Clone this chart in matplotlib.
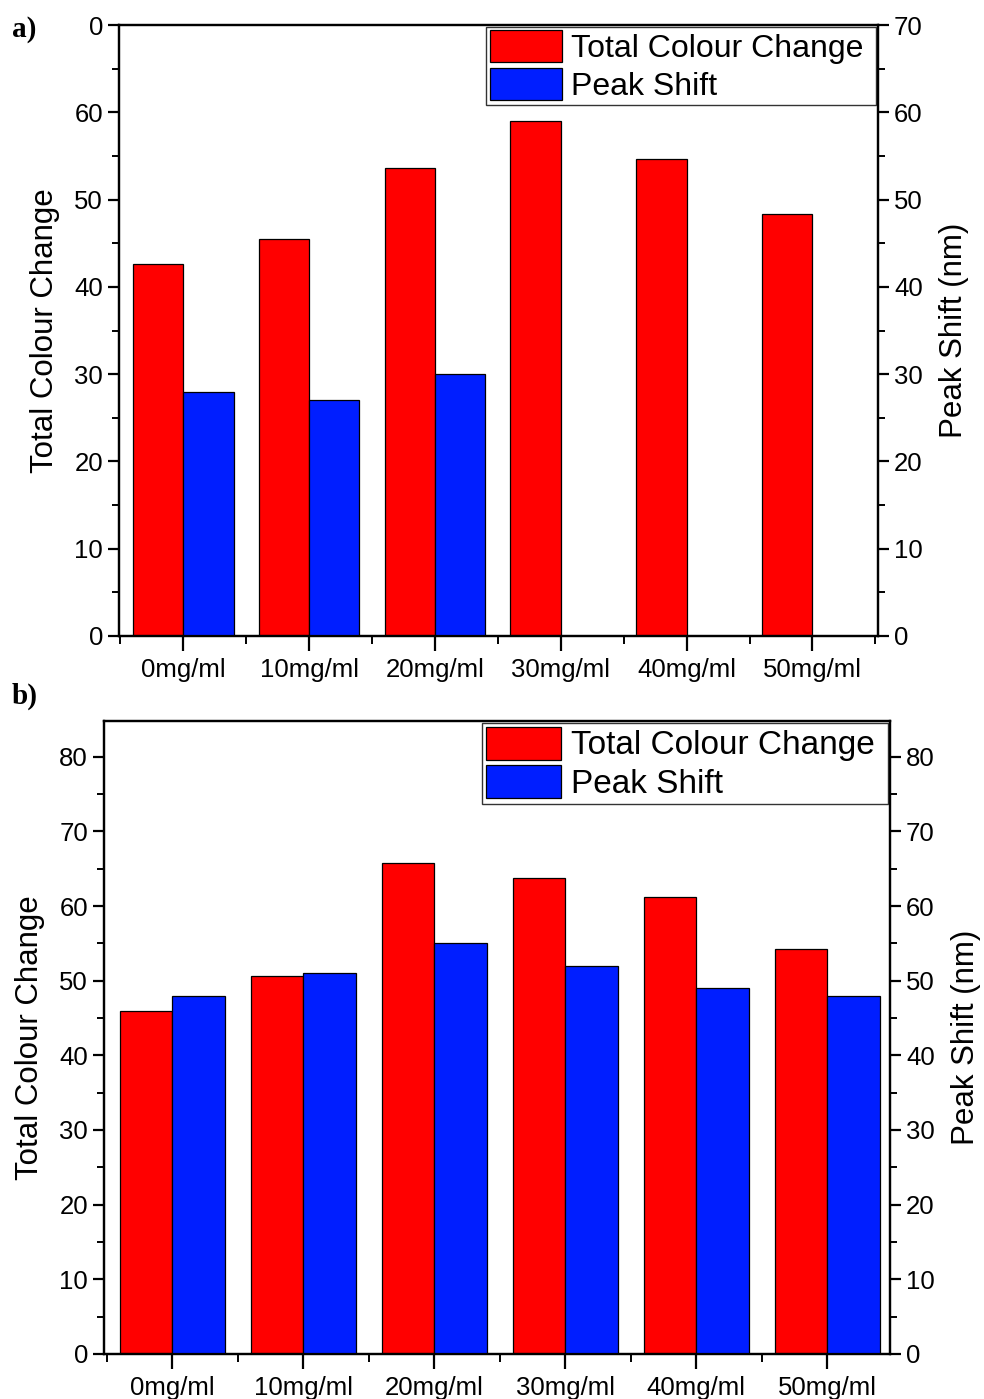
import matplotlib.pyplot as plt
import numpy as np
from matplotlib.ticker import MultipleLocator, FixedLocator, FixedFormatter

plt.rcParams['font.family'] = ['Liberation Sans', 'DejaVu Sans']

categories = ['0mg/ml', '10mg/ml', '20mg/ml', '30mg/ml', '40mg/ml', '50mg/ml']

# panel a
colour_a = [42.6, 45.5, 53.6, 59.0, 54.6, 48.3]
shift_a = [28, 27, 30, 0, 0, 0]
# panel b
colour_b = [46.0, 50.6, 65.8, 63.8, 61.2, 54.2]
shift_b = [48, 51, 55, 52, 49, 48]

RED = '#ff0000'
BLUE = '#001eff'
TICK_FS = 18.5
LABEL_FS = 22.5


def style_axis(ax, side):
    for sp in ax.spines.values():
        sp.set_linewidth(1.6)
    ax.tick_params(axis='y', which='major', direction='out', length=8, width=1.6,
                   labelsize=TICK_FS, left=(side == 'left'), right=(side == 'right'),
                   labelleft=(side == 'left'), labelright=(side == 'right'))
    ax.tick_params(axis='y', which='minor', direction='out', length=5, width=1.4,
                   left=(side == 'left'), right=(side == 'right'))
    ax.yaxis.set_minor_locator(MultipleLocator(5))


def draw_panel(fig, rect, colour, shift, ymax, xlim, leg_fs, left_labels=None):
    ax = fig.add_axes(rect)
    x = np.arange(len(categories))
    w = 0.4
    ax.bar(x - w / 2, colour, w, color=RED, edgecolor='black', linewidth=0.9,
           label='Total Colour Change ')
    ax.set_xlim(*xlim)
    ax.set_ylim(0, ymax)
    ax.set_xticks(x)
    ax.set_xticklabels(categories)
    ax.xaxis.set_minor_locator(FixedLocator(np.arange(-0.5, len(categories), 1.0)))
    ax.tick_params(axis='x', which='major', direction='out', length=11, width=1.6,
                   labelsize=TICK_FS, pad=5)
    ax.tick_params(axis='x', which='minor', direction='out', length=6, width=1.4)
    ax.yaxis.set_major_locator(MultipleLocator(10))
    style_axis(ax, 'left')
    if left_labels is not None:
        ax.yaxis.set_major_locator(FixedLocator(np.arange(0, ymax + 1, 10)))
        ax.yaxis.set_major_formatter(FixedFormatter(left_labels))
    ax.set_ylabel('Total Colour Change', fontsize=LABEL_FS, labelpad=10)

    ax2 = ax.twinx()
    ax2.bar(x + w / 2, shift, w, color=BLUE, edgecolor='black', linewidth=0.9,
            label='Peak Shift')
    ax2.set_ylim(0, ymax)
    ax2.yaxis.set_major_locator(MultipleLocator(10))
    style_axis(ax2, 'right')
    ax2.set_ylabel('Peak Shift (nm)', fontsize=LABEL_FS, labelpad=12)

    h1, l1 = ax.get_legend_handles_labels()
    h2, l2 = ax2.get_legend_handles_labels()
    leg = ax2.legend(h1 + h2, l1 + l2, loc='upper right', fontsize=leg_fs,
                     frameon=True, fancybox=False, edgecolor='black',
                     borderaxespad=0.05, handlelength=2.25, handleheight=1.15,
                     labelspacing=0.12, borderpad=0.12, handletextpad=0.3)
    leg.get_frame().set_linewidth(1.0)
    return ax, ax2


fig = plt.figure(figsize=(9.84, 13.99), dpi=100)

draw_panel(fig, [0.1209, 0.5454, 0.7713, 0.4367], colour_a, shift_a, 70,
           (-0.51, 5.52), 23, left_labels=['0', '10', '20', '30', '40', '50', '60', '0'])
draw_panel(fig, [0.1057, 0.0322, 0.7988, 0.4525], colour_b, shift_b, 84.8,
           (-0.52, 5.48), 24)

fig.text(0.012, 0.979, 'a)', fontsize=21, fontweight='bold',
         family=['Liberation Serif', 'DejaVu Serif'], va='center')
fig.text(0.012, 0.502, 'b)', fontsize=21, fontweight='bold',
         family=['Liberation Serif', 'DejaVu Serif'], va='center')

fig.savefig('out.png', dpi=100)
